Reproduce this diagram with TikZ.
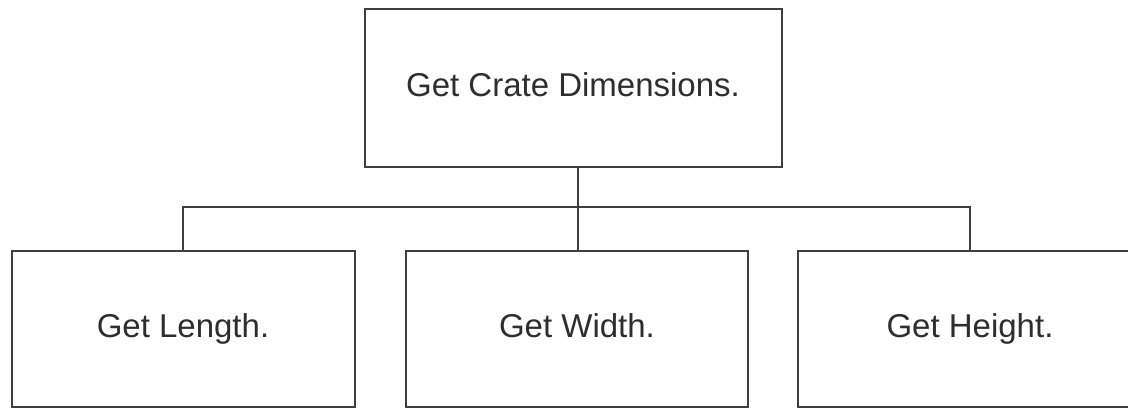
\documentclass[tikz,border=0pt]{standalone}
\usepackage{fontspec}
\setmainfont{Liberation Sans}
\definecolor{linec}{HTML}{3F3F3F}
\definecolor{textc}{HTML}{2E2E2E}
\begin{document}
\begin{tikzpicture}[x=1pt,y=-1pt,
  box/.style={draw=linec, line width=2pt, rectangle, inner sep=0pt, text=textc,
    text height=24pt, text depth=7pt,
    font=\fontsize{33}{40}\selectfont},
  conn/.style={draw=linec, line width=2pt}]
\useasboundingbox (0,0) rectangle (1128,408);
\fill[white] (0,0) rectangle (1128,408);
\node[box, minimum width=417pt, minimum height=158pt] (top) at (573,88) {Get Crate Dimensions.};
\node[box, minimum width=343pt, minimum height=156pt] (len) at (183,328.5) {Get Length.};
\node[box, minimum width=342pt, minimum height=156pt] (wid) at (577,328.5) {Get Width.};
\node[box, minimum width=344pt, minimum height=156pt] (hei) at (970,328.5) {Get Height.};
\coordinate (bus) at (578,207);
\draw[conn] (top.south -| bus) -- (bus);
\draw[conn] (len.north) -- (len.north |- bus) -- (hei.north |- bus) -- (hei.north);
\draw[conn] (bus) -- (wid.north -| bus);
\end{tikzpicture}
\end{document}
